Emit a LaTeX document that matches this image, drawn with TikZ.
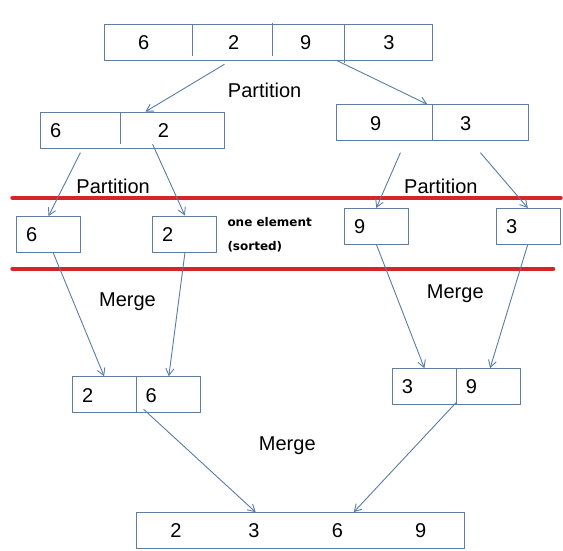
\documentclass[tikz,border=0pt]{standalone}
\usepackage{fontspec}
\setmainfont{Liberation Sans}
\newfontfamily\notefont{DejaVu Sans}
\usetikzlibrary{arrows.meta}
\definecolor{boxline}{RGB}{96,126,160}
\definecolor{arrline}{RGB}{88,124,168}
\definecolor{redline}{RGB}{212,36,44}
\begin{document}
\begin{tikzpicture}[x=1pt,y=-1pt,
  cell/.style={draw=boxline,line width=1pt,inner sep=0pt,minimum height=36pt},
  num/.style={anchor=base,inner sep=0pt,font=\fontsize{20}{24}\selectfont},
  lbl/.style={anchor=base,inner sep=0pt,font=\fontsize{20}{24}\selectfont},
  note/.style={anchor=base west,inner sep=0pt,font=\notefont\bfseries\fontsize{12}{14}\selectfont},
  flow/.style={draw=arrline,line width=0.9pt,-{Straight Barb[length=7pt,width=8pt]}},
  divider/.style={draw=boxline,line width=1pt},
  sep/.style={draw=redline,line width=4.6pt,line cap=round}]
\useasboundingbox (0,0) rectangle (563,551);

% boxes
\node[cell,minimum width=328pt] (T) at (268.5,42.3) {};
\node[cell,minimum width=184.6pt] (L) at (132.5,130.3) {};
\node[cell,minimum width=192pt] (R) at (432.4,122.3) {};
\node[cell,minimum width=64.3pt] (S6) at (48.6,234.4) {};
\node[cell,minimum width=64.1pt] (S2) at (184.6,234.3) {};
\node[cell,minimum width=63.9pt] (S9) at (376.6,226.3) {};
\node[cell,minimum width=64.2pt] (S3) at (528.3,226.2) {};
\node[cell,minimum width=127.9pt] (M26) at (136.5,394.5) {};
\node[cell,minimum width=127.8pt] (M39) at (456.4,386.5) {};
\node[cell,minimum width=327.9pt] (B) at (300.4,530.5) {};

% dividers
\coordinate (td1a) at (192.8,24.3); \coordinate (td1b) at (192.8,56);
\coordinate (td2a) at (272.5,22.7); \coordinate (td2b) at (272.5,56);
\coordinate (td3a) at (344.7,24.3); \coordinate (td3b) at (344.7,63.3);
\coordinate (ld1a) at (120.6,112.3); \coordinate (ld1b) at (120.6,144);
\coordinate (rd1a) at (432.7,104.3); \coordinate (rd1b) at (432.7,140.3);
\coordinate (md1a) at (136.8,376.6); \coordinate (md1b) at (136.8,412.4);
\coordinate (md2a) at (456.7,368.6); \coordinate (md2b) at (456.7,404.4);
\draw[divider] (td1a) -- (td1b);
\draw[divider] (td2a) -- (td2b);
\draw[divider] (td3a) -- (td3b);
\draw[divider] (ld1a) -- (ld1b);
\draw[divider] (rd1a) -- (rd1b);
\draw[divider] (md1a) -- (md1b);
\draw[divider] (md2a) -- (md2b);

% numbers
\node[num] (t1) at (143.6,50) {6};
\node[num] (t2) at (233.8,50) {2};
\node[num] (t3) at (305.6,50) {9};
\node[num] (t4) at (388.9,50) {3};
\node[num] (l1) at (55.7,137.9) {6};
\node[num] (l2) at (163.4,137.9) {2};
\node[num] (r1) at (375.6,130.5) {9};
\node[num] (r2) at (465.7,130.5) {3};
\node[num] (s6) at (31.6,241.5) {6};
\node[num] (s2) at (167.7,241.5) {2};
\node[num] (s9) at (359.8,233.9) {9};
\node[num] (s3) at (511.7,233.9) {3};
\node[num] (m1) at (87.6,402.2) {2};
\node[num] (m2) at (151.2,402.2) {6};
\node[num] (n1) at (407.5,393.9) {3};
\node[num] (n2) at (471.4,393.9) {9};
\node[num] (b1) at (176,537.9) {2};
\node[num] (b2) at (253.9,537.9) {3};
\node[num] (b3) at (337.5,537.9) {6};
\node[num] (b4) at (420.8,537.9) {9};

% labels
\node[lbl] (p0) at (264.6,97.7) {Partition};
\node[lbl] (p1) at (113.1,193.6) {Partition};
\node[lbl] (p2) at (440.9,193.6) {Partition};
\node[lbl] (g1) at (127.5,306) {Merge};
\node[lbl] (g2) at (455.3,298.3) {Merge};
\node[lbl] (g3) at (287.3,450) {Merge};
\node[note] (n1a) at (227.3,226.7) {one element};
\node[note] (n1b) at (227.3,250.5) {(sorted)};

% red separators
\coordinate (ra) at (12.6,197.8); \coordinate (rb) at (560.5,197.8);
\coordinate (rc) at (12.6,268.8); \coordinate (rd) at (553,268.8);
\draw[sep] (ra) -- (rb);
\draw[sep] (rc) -- (rd);

% arrow end points
\coordinate (a1s) at (224.4,64.3);  \coordinate (a1e) at (145.4,111.7);
\coordinate (a2s) at (335.7,60);    \coordinate (a2e) at (427.3,104.3);
\coordinate (a3s) at (80.4,152.7);  \coordinate (a3e) at (48.5,216);
\coordinate (a4s) at (152.6,144.3); \coordinate (a4e) at (184.9,215.5);
\coordinate (a5s) at (400.4,152.7); \coordinate (a5e) at (376.3,208);
\coordinate (a6s) at (480.4,152.7); \coordinate (a6e) at (527.8,208);
\coordinate (a7s) at (53,252.3);    \coordinate (a7e) at (104.1,376.3);
\coordinate (a8s) at (185,252.3);   \coordinate (a8e) at (168.8,376.3);
\coordinate (a9s) at (376.3,244.3); \coordinate (a9e) at (424.4,368.2);
\coordinate (a10s) at (527.8,244.3);\coordinate (a10e) at (490.1,368.2);
\coordinate (a11s) at (143.6,409.3);\coordinate (a11e) at (255.7,512.2);
\coordinate (a12s) at (456,402.7);  \coordinate (a12e) at (353.7,512.2);
\foreach \i in {1,...,12} {\draw[flow] (a\i s) -- (a\i e);}
\end{tikzpicture}
\end{document}
